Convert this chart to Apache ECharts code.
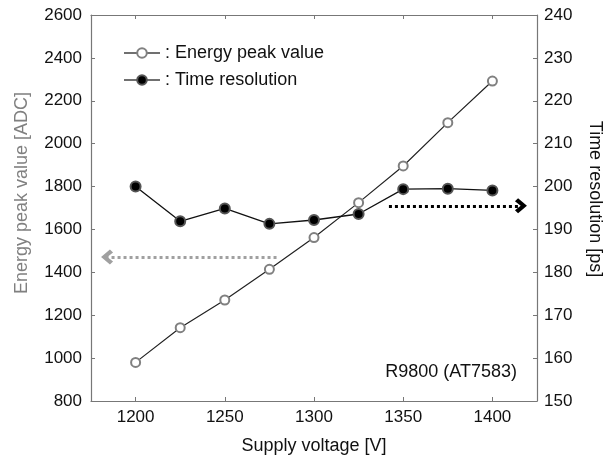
<!DOCTYPE html>
<html>
<head>
<meta charset="utf-8">
<script src="https://cdn.jsdelivr.net/npm/echarts@6/dist/echarts.min.js"></script>
<style>
  html, body { margin: 0; padding: 0; background: #fff; }
  #chart { width: 608px; height: 458px; }
</style>
</head>
<body>
<div id="chart"></div>
<script>
const voltages = [1200, 1225, 1250, 1275, 1300, 1325, 1350, 1375, 1400]
const energyPeak = [980, 1142, 1271, 1414, 1562, 1725, 1896, 2098, 2292]
const timeResolution = [200.0, 191.9, 194.9, 191.3, 192.2, 193.6, 199.4, 199.5, 199.1]
const voltageTicks = [1200, 1250, 1300, 1350, 1400]
// dotted arrows: [x start, x tip, y]
const energyArrow = [1279, 1184, 1472]
const timeArrow = [1342, 1416, 195.5]

const font = "'Liberation Sans', Arial, sans-serif"
const axisGray = '#777'
// chevron pointing up, markLine rotates it along the line
const chevron = 'path://M5,0 L10,6.5 L8,8.8 L5,4.6 L2,8.8 L0,6.5 Z'
const plain = v => String(v)

const chart = echarts.init(document.getElementById('chart'))

const xBase = {
  type: 'value',
  min: 1175,
  max: 1425,
  splitLine: { show: false },
  axisLine: { lineStyle: { color: axisGray, width: 1.2 } },
  axisTick: { inside: true, length: 4, customValues: voltageTicks, lineStyle: { color: axisGray } }
}

const option = {
  animation: false,
  textStyle: { fontFamily: font },
  grid: { left: 91, right: 71, top: 15, bottom: 57, containLabel: false, outerBoundsMode: 'none' },
  legend: {
    orient: 'vertical',
    left: 118,
    top: 39,
    itemWidth: 36,
    itemHeight: 12,
    itemGap: 9,
    data: ['Energy peak value', 'Time resolution'],
    formatter: ': {name}',
    lineStyle: { color: '#707070', width: 2 },
    textStyle: { fontSize: 18, color: '#111', fontFamily: font }
  },
  xAxis: [
    Object.assign({}, xBase, {
      position: 'bottom',
      name: 'Supply voltage [V]',
      nameLocation: 'middle',
      nameGap: 36,
      nameTextStyle: { fontSize: 18, color: '#111', fontFamily: font },
      axisLabel: { customValues: voltageTicks, formatter: plain, margin: 8, fontSize: 17, color: '#111', fontFamily: font }
    }),
    Object.assign({}, xBase, {
      position: 'top',
      axisLabel: { show: false }
    })
  ],
  yAxis: [
    {
      type: 'value',
      min: 800,
      max: 2600,
      interval: 200,
      position: 'left',
      name: 'Energy peak value [ADC]',
      nameLocation: 'middle',
      nameRotate: 90,
      nameGap: 60,
      nameTextStyle: { fontSize: 18, color: '#808080', fontFamily: font, padding: [0, 0, 0, 30] },
      splitLine: { show: false },
      axisLine: { show: true, lineStyle: { color: axisGray, width: 1.2 } },
      axisTick: { show: true, inside: true, length: 4, lineStyle: { color: axisGray } },
      axisLabel: { formatter: plain, margin: 9, fontSize: 17, color: '#111', fontFamily: font }
    },
    {
      type: 'value',
      min: 150,
      max: 240,
      interval: 10,
      position: 'right',
      name: 'Time resolution [ps]',
      nameLocation: 'middle',
      nameRotate: -90,
      nameGap: 49,
      nameTextStyle: { fontSize: 18, color: '#111', fontFamily: font, padding: [0, 18, 0, 0] },
      splitLine: { show: false },
      axisLine: { show: true, lineStyle: { color: axisGray, width: 1.2 } },
      axisTick: { show: true, inside: true, length: 4, lineStyle: { color: axisGray } },
      axisLabel: { formatter: plain, margin: 7, fontSize: 17, color: '#111', fontFamily: font }
    }
  ],
  graphic: [
    {
      type: 'text',
      right: 91,
      top: 363,
      style: { text: 'R9800 (AT7583)', fontSize: 18, fill: '#111', font: '18px ' + font }
    }
  ],
  series: [
    {
      name: 'Energy peak value',
      type: 'line',
      xAxisIndex: 0,
      yAxisIndex: 0,
      data: voltages.map((v, i) => [v, energyPeak[i]]),
      symbol: 'circle',
      symbolSize: 9,
      itemStyle: { color: '#fff', borderColor: '#808080', borderWidth: 2 },
      lineStyle: { color: '#222', width: 1.2 },
      markLine: {
        silent: true,
        symbol: ['none', chevron],
        symbolSize: [15, 12],
        label: { show: false },
        lineStyle: { type: [3, 3], color: '#a0a0a0', width: 3 },
        data: [[
          { coord: [energyArrow[0], energyArrow[2]] },
          { coord: [energyArrow[1], energyArrow[2]] }
        ]]
      }
    },
    {
      name: 'Time resolution',
      type: 'line',
      xAxisIndex: 0,
      yAxisIndex: 1,
      data: voltages.map((v, i) => [v, timeResolution[i]]),
      symbol: 'circle',
      symbolSize: 10,
      itemStyle: { color: '#000', borderColor: '#555', borderWidth: 2 },
      lineStyle: { color: '#111', width: 1.3 },
      markLine: {
        silent: true,
        symbol: ['none', chevron],
        symbolSize: [15, 12],
        label: { show: false },
        lineStyle: { type: [3, 3], color: '#000', width: 3 },
        data: [[
          { coord: [timeArrow[0], timeArrow[2]] },
          { coord: [timeArrow[1], timeArrow[2]] }
        ]]
      }
    }
  ]
}

chart.setOption(option)
window.addEventListener('resize', () => chart.resize())
</script>
</body>
</html>
